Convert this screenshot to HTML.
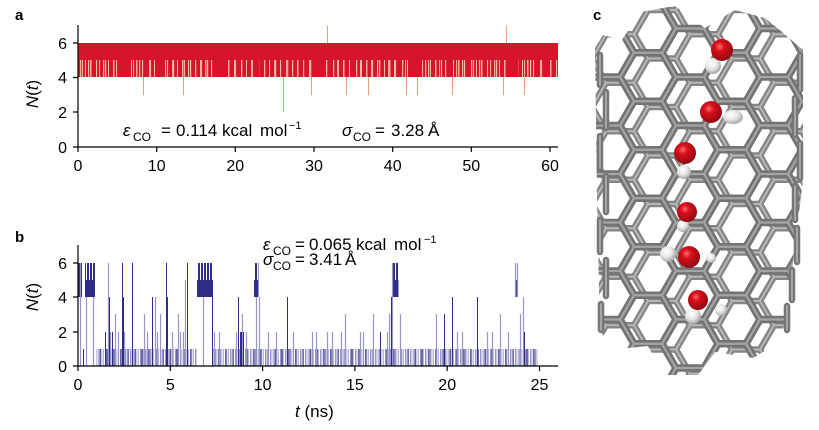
<!DOCTYPE html>
<html><head><meta charset="utf-8"><style>
html,body{margin:0;padding:0;background:#fff;}
svg{display:block;font-family:"Liberation Sans",Arial,sans-serif;}
</style></head><body>
<svg width="819" height="430" viewBox="0 0 819 430" xmlns="http://www.w3.org/2000/svg">
<defs>
  <pattern id="pa1" patternUnits="userSpaceOnUse" x="78" y="0" width="23" height="200">
    <rect x="2" y="0" width="1.3" height="200" fill="#f4ab90"/>
    <rect x="7" y="0" width="1" height="200" fill="#f6bca4"/>
    <rect x="12" y="0" width="1.5" height="200" fill="#f4ab90"/>
    <rect x="18" y="0" width="1.1" height="200" fill="#f6bca4"/>
  </pattern>
  <pattern id="pa2" patternUnits="userSpaceOnUse" x="78" y="0" width="17" height="200">
    <rect x="4" y="0" width="1.1" height="200" fill="#f4ab90"/>
    <rect x="10" y="0" width="1.2" height="200" fill="#f6bca4"/>
  </pattern>
  <pattern id="pa3" patternUnits="userSpaceOnUse" x="78" y="0" width="97" height="200">
    <rect x="40" y="0" width="12" height="200" fill="#d6142b"/>
    <rect x="78" y="0" width="6" height="200" fill="#d6142b"/>
  </pattern>
  <pattern id="pbL" patternUnits="userSpaceOnUse" x="0" y="0" width="5" height="400">
    <rect x="0" y="0" width="1.5" height="400" fill="#9896c8"/>
    <rect x="2.6" y="0" width="1.2" height="400" fill="#aaa8d4"/>
  </pattern>
  <pattern id="pbD" patternUnits="userSpaceOnUse" x="0" y="0" width="7" height="400">
    <rect x="1.5" y="0" width="1.1" height="400" fill="#34328a"/>
  </pattern>
  <pattern id="pbk" patternUnits="userSpaceOnUse" x="0" y="0" width="3" height="400">
    <rect x="0" y="0" width="2" height="400" fill="#2f2d85"/>
  </pattern>
  <pattern id="hf" patternUnits="userSpaceOnUse" x="648" y="28.5" width="84" height="48.5">
    <g fill="none" stroke-linejoin="round">
      <path d="M70 24.25 L56 48.5 L28 48.5 L14 24.25 L28 0 L56 0 Z M0 24.25 H14 M70 24.25 H84" stroke="#737373" stroke-width="7.5"/>
      <path d="M70 24.25 L56 48.5 L28 48.5 L14 24.25 L28 0 L56 0 Z M0 24.25 H14 M70 24.25 H84" stroke="#a4a4a4" stroke-width="2.2"/>
    </g>
  </pattern>
  <pattern id="hb" patternUnits="userSpaceOnUse" x="620" y="10" width="84" height="48.5">
    <g fill="none" stroke-linejoin="round">
      <path d="M70 24.25 L56 48.5 L28 48.5 L14 24.25 L28 0 L56 0 Z M0 24.25 H14 M70 24.25 H84" stroke="#858585" stroke-width="6.5"/>
      <path d="M70 24.25 L56 48.5 L28 48.5 L14 24.25 L28 0 L56 0 Z M0 24.25 H14 M70 24.25 H84" stroke="#bababa" stroke-width="1.8"/>
    </g>
  </pattern>
  <clipPath id="tube"><path d="M595 48 L603 35 L622 40 L640 12 L675 6 L705 28 L735 10 L765 18 L782 32 L803 50 L803 180 L792 270 L787 320 L775 345 L753 358 L715 352 L698 375 L664 375 L648 346 L618 349 L600 332 L597 200 Z"/></clipPath>
  <radialGradient id="rg" cx="0.4" cy="0.35" r="0.7">
    <stop offset="0" stop-color="#ff6a6a"/><stop offset="0.3" stop-color="#d8101c"/><stop offset="1" stop-color="#8a0810"/>
  </radialGradient>
  <radialGradient id="wg" cx="0.4" cy="0.35" r="0.7">
    <stop offset="0" stop-color="#ffffff"/><stop offset="0.5" stop-color="#e6e6e6"/><stop offset="1" stop-color="#9c9c9c"/>
  </radialGradient>
</defs>

<!-- ===== Panel a ===== -->
<text x="15" y="20" font-size="15" font-weight="bold">a</text>
<rect x="78" y="43" width="480" height="34" fill="#d6142b"/>
<rect x="78" y="60" width="480" height="17" fill="url(#pa1)"/>
<rect x="78" y="60" width="480" height="17" fill="url(#pa2)"/>
<rect x="78" y="60" width="480" height="17" fill="url(#pa3)"/>
<g stroke="#ee9f78" stroke-width="1" transform="translate(0.5,0)">
  <path d="M327 43V25.5 M506 43V25.5 M143 77V95 M183 77V95 M311 77V95 M346 77V95 M368 77V95 M406 77V95 M417 77V95 M452 77V95 M503 77V95 M524 77V95 M283 77V112"/>
</g>
<g stroke="#000" stroke-width="1.2" fill="none">
  <path d="M78 25V147.5 M77.5 147H558"/>
  <path d="M73 43H78 M73 77.5H78 M73 112H78 M73 147H78"/>
  <path d="M78 147V152 M156.7 147V152 M235.3 147V152 M314 147V152 M392.7 147V152 M471.3 147V152 M550 147V152"/>
</g>
<g font-size="16" text-anchor="end">
  <text x="67" y="49">6</text><text x="67" y="83">4</text><text x="67" y="118">2</text><text x="67" y="153">0</text>
</g>
<g font-size="16" text-anchor="middle">
  <text x="78" y="171">0</text><text x="156.7" y="171">10</text><text x="235.3" y="171">20</text><text x="314" y="171">30</text><text x="392.7" y="171">40</text><text x="471.3" y="171">50</text><text x="550" y="171">60</text>
</g>
<text transform="translate(38,94) rotate(-90)" text-anchor="middle" font-size="17"><tspan font-style="italic">N</tspan>(<tspan font-style="italic">t</tspan>)</text>

<g font-size="17">
  <text x="123" y="136" font-style="italic">ε</text>
  <text x="133" y="141" font-size="12">CO</text>
  <text x="161" y="136">=</text>
  <text x="176" y="136">0.114</text>
  <text x="222" y="136">kcal</text>
  <text x="260" y="136">mol</text>
  <text x="289" y="129" font-size="11">−1</text>

  <text x="342" y="136" font-style="italic">σ</text>
  <text x="353" y="141" font-size="12">CO</text>
  <text x="375" y="136">=</text>
  <text x="391" y="136">3.28</text>
  <text x="428" y="136">Å</text>
</g>

<!-- ===== Panel b ===== -->
<text x="15" y="242" font-size="15" font-weight="bold">b</text>
<rect x="96" y="349" width="101" height="17" fill="url(#pbL)"/>
<rect x="213" y="349" width="325" height="17" fill="url(#pbL)"/>
<rect x="96" y="349" width="101" height="17" fill="url(#pbD)"/>
<rect x="213" y="349" width="325" height="17" fill="url(#pbD)"/>
<g>
  <rect x="78.5" y="280" width="3.5" height="17" fill="#2f2d85"/><rect x="78.5" y="263" width="3.5" height="17" fill="url(#pbk)"/>
  <rect x="85" y="280" width="10" height="17" fill="#2f2d85"/><rect x="85" y="263" width="10" height="17" fill="url(#pbk)"/>
  <rect x="197" y="280" width="16" height="17" fill="#2f2d85"/><rect x="197" y="263" width="16" height="17" fill="url(#pbk)"/>
  <rect x="254" y="280" width="4.5" height="17" fill="#2f2d85"/><rect x="254" y="263" width="4.5" height="17" fill="url(#pbk)"/>
  <rect x="393" y="280" width="5.5" height="17" fill="#2f2d85"/><rect x="393" y="263" width="5.5" height="17" fill="url(#pbk)"/>
  <rect x="515" y="280" width="2.5" height="17" fill="#2f2d85"/>
</g>
<g stroke="#9896c8" stroke-width="1.2" fill="none" transform="translate(0.5,0)">
  <path d="M80 366V263 M86 366V297 M93 366V297 M108 366V263 M110 366V332 M115 366V314 M118 366V332 M124 366V332 M144 366V314 M147 366V332 M155 366V297 M157 366V332 M160 366V314 M172 366V332 M178 366V314 M180 366V332 M183 366V332 M185 366V280 M203 366V297 M214 366V332 M219 366V332 M236 366V332 M242 366V314 M246 366V332 M256 366V297 M259 366V297 M268 366V332 M276 366V332 M293 366V332 M312 366V332 M316 366V332 M327 366V332 M332 366V332 M341 366V332 M345 366V314 M360 366V332 M363 366V332 M373 366V314 M387 366V332 M389 366V314 M391 366V314 M392 366V263 M400 366V314 M436 366V314 M457 366V332 M462 366V332 M487 366V332 M492 366V332 M500 366V314 M508 366V332 M515 297V263 M517 297V263 M520 366V314 M523 366V297"/>
</g>
<g stroke="#2f2d85" stroke-width="1" fill="none" transform="translate(0.5,0)">
  <path d="M83 366V349 M105 366V332 M109 366V297 M112 366V332 M122 366V263 M123 366V297 M132 366V263 M152 366V297 M166 366V263 M167 366V297 M187 366V263 M212 366V297 M238 366V297 M240 366V332 M241 366V332 M243 366V332 M287 366V297 M380 366V332 M391 366V297 M444 366V314 M452 366V297 M477 366V297 M524 366V332"/>
</g>
<g stroke="#000" stroke-width="1.2" fill="none">
  <path d="M78 245V366.5 M77.5 366H558"/>
  <path d="M73 263H78 M73 297H78 M73 332H78 M73 366H78"/>
  <path d="M78 366V371 M170.3 366V371 M262.6 366V371 M354.9 366V371 M447.2 366V371 M539.5 366V371"/>
</g>
<g font-size="16" text-anchor="end">
  <text x="67" y="269">6</text><text x="67" y="303">4</text><text x="67" y="338">2</text><text x="67" y="372">0</text>
</g>
<g font-size="16" text-anchor="middle">
  <text x="78" y="390">0</text><text x="170.3" y="390">5</text><text x="262.6" y="390">10</text><text x="354.9" y="390">15</text><text x="447.2" y="390">20</text><text x="539.5" y="390">25</text>
</g>
<text transform="translate(38,297) rotate(-90)" text-anchor="middle" font-size="17"><tspan font-style="italic">N</tspan>(<tspan font-style="italic">t</tspan>)</text>
<text x="295" y="417" font-size="17"><tspan font-style="italic">t</tspan> (ns)</text>

<g font-size="17">
  <text x="263" y="250" font-style="italic">ε</text>
  <text x="273" y="255" font-size="12">CO</text>
  <text x="295" y="250">=</text>
  <text x="309" y="250">0.065</text>
  <text x="356" y="250">kcal</text>
  <text x="394" y="250">mol</text>
  <text x="424" y="243" font-size="11">−1</text>

  <text x="263" y="265" font-style="italic">σ</text>
  <text x="273" y="270" font-size="12">CO</text>
  <text x="295" y="265">=</text>
  <text x="309" y="265">3.41</text>
  <text x="345" y="265">Å</text>
</g>

<!-- ===== Panel c ===== -->
<text x="593" y="20" font-size="15" font-weight="bold">c</text>
<g clip-path="url(#tube)">
  <rect x="590" y="0" width="220" height="380" fill="url(#hb)"/>
  <rect x="590" y="0" width="220" height="380" fill="url(#hf)"/>
</g>
<g fill="none" stroke-linecap="round">
  <path d="M600 55V85 M606 92V128 M600 136V168 M606 176V212 M600 220V252 M606 260V296 M601 304V330 M800 55V90 M795 98V135 M800 143V178 M795 186V220 M797 228V262 M792 270V300 M787 306V330" stroke="#767676" stroke-width="6.5"/>
  <path d="M600 55V85 M606 92V128 M600 136V168 M606 176V212 M600 220V252 M606 260V296 M601 304V330 M800 55V90 M795 98V135 M800 143V178 M795 186V220 M797 228V262 M792 270V300 M787 306V330" stroke="#ababab" stroke-width="1.8"/>
</g>
<g>
  <circle cx="713" cy="66" r="8" fill="url(#wg)"/>
  <circle cx="722" cy="50" r="11" fill="url(#rg)"/>
  <ellipse cx="733" cy="117" rx="10" ry="7" fill="url(#wg)"/>
  <circle cx="711" cy="112" r="11" fill="url(#rg)"/>
  <circle cx="684" cy="172" r="7" fill="url(#wg)"/>
  <circle cx="685" cy="153" r="11" fill="url(#rg)"/>
  <circle cx="683" cy="226" r="6" fill="url(#wg)"/>
  <circle cx="687" cy="212" r="10" fill="url(#rg)"/>
  <circle cx="668" cy="254" r="8" fill="url(#wg)"/>
  <circle cx="711" cy="258" r="5" fill="url(#wg)"/>
  <circle cx="689" cy="257" r="11" fill="url(#rg)"/>
  <circle cx="693" cy="316" r="8" fill="url(#wg)"/>
  <circle cx="721" cy="310" r="6" fill="url(#wg)"/>
  <circle cx="698" cy="300" r="10" fill="url(#rg)"/>
</g>
</svg>
</body></html>
